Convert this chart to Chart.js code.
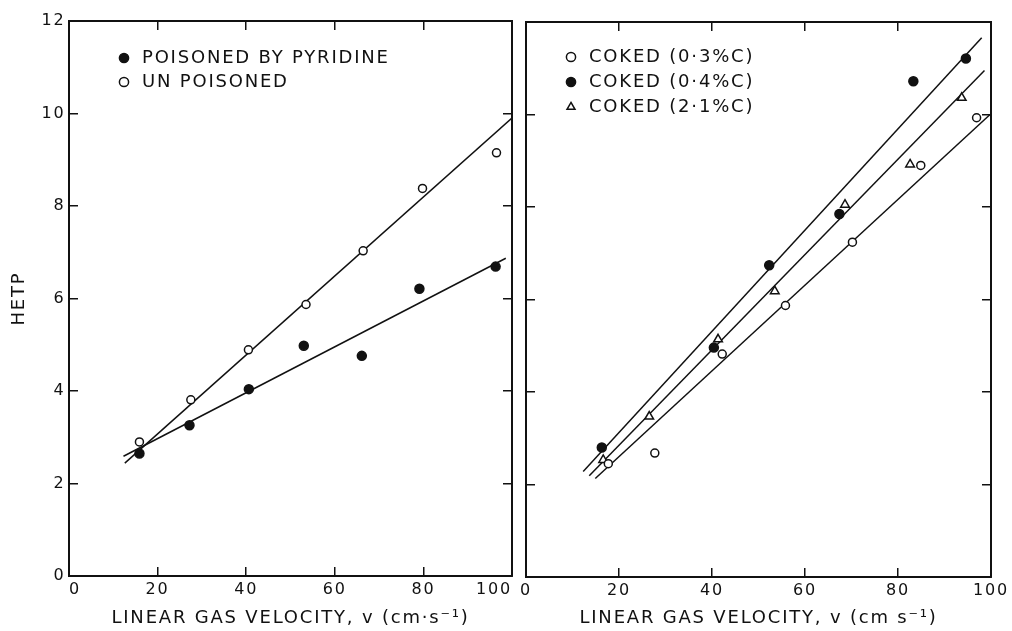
<!DOCTYPE html>
<html>
<head>
<meta charset="utf-8">
<script src="https://cdn.jsdelivr.net/npm/chart.js@4.4.1/dist/chart.umd.min.js"></script>
<style>
  html, body { margin: 0; padding: 0; background: #fff; }
  #wrap { position: relative; width: 1012px; height: 631px; overflow: hidden; background: #fff; }
  canvas { position: absolute; top: 0; }
  #left { left: 0; }
  #right { left: 518px; }
</style>
</head>
<body>
<div id="wrap">
  <canvas id="left" width="518" height="631"></canvas>
  <canvas id="right" width="494" height="631"></canvas>
</div>
<script>
// -- DATA ----------------------------------------------
const xTicks = [0, 20, 40, 60, 80, 100];
const yTicks = [0, 2, 4, 6, 8, 10, 12];

const xTitleLeft = "LINEAR GAS VELOCITY, v (cm·s⁻¹)";
const xTitleRight = "LINEAR GAS VELOCITY, v (cm s⁻¹)";
const yTitle = "HETP";

// left panel
const leftLabels = ["POISONED BY PYRIDINE", "UN POISONED"];
const poisonedV = [15.9, 27.2, 40.6, 53.0, 66.1, 79.1, 96.3];
const poisonedH = [2.65, 3.26, 4.04, 4.98, 4.76, 6.21, 6.69];
const unpoisonedV = [15.9, 27.5, 40.5, 53.5, 66.4, 79.8, 96.5];
const unpoisonedH = [2.90, 3.81, 4.89, 5.87, 7.03, 8.38, 9.15];
const poisonedFitV = [12.3, 98.6];
const poisonedFitH = [2.59, 6.87];
const unpoisonedFitV = [12.6, 100.3];
const unpoisonedFitH = [2.44, 9.93];

// right panel
const rightLabels = ["COKED (0·3%C)", "COKED (0·4%C)", "COKED (2·1%C)"];
const coked03V = [17.7, 27.7, 42.2, 55.8, 70.2, 84.9, 96.9];
const coked03H = [2.45, 2.68, 4.82, 5.87, 7.24, 8.90, 9.93];
const coked04V = [16.3, 40.4, 52.3, 67.4, 83.3, 94.6];
const coked04H = [2.80, 4.96, 6.74, 7.85, 10.72, 11.21];
const coked21V = [16.6, 26.5, 41.3, 53.5, 68.6, 82.6, 93.7];
const coked21H = [2.53, 3.47, 5.14, 6.18, 8.05, 8.92, 10.36];
const coked03FitV = [14.9, 99.8];
const coked03FitH = [2.13, 10.0];
const coked04FitV = [12.3, 98.0];
const coked04FitH = [2.28, 11.66];
const coked21FitV = [13.6, 98.6];
const coked21FitH = [2.19, 10.95];

// -- STYLE ---------------------------------------------
const INK = "#111";
Chart.defaults.font.family = "'DejaVu Sans', sans-serif";
Chart.defaults.color = INK;

function toPoints(xs, ys) {
  return xs.map((x, i) => ({ x: x, y: ys[i] }));
}

// widen the lettering a little, like the stencil text of the original
const letterSpacing = {
  id: "letterSpacing",
  beforeUpdate(chart) { chart.ctx.letterSpacing = "1.8px"; },
  beforeDraw(chart) { chart.ctx.letterSpacing = "1.8px"; }
};

// put the (chartArea) legend where the original has it
const legendSpot = {
  id: "legendSpot",
  afterLayout(chart, args, opts) {
    const lg = chart.legend;
    if (!lg) return;
    const w = lg.width;
    const h = lg.height;
    lg.left = opts.x;
    lg.top = opts.y;
    lg.right = opts.x + w;
    lg.bottom = opts.y + h;
  }
};

function scatterSet(label, xs, ys, style, filled, radius) {
  return {
    label: label,
    data: toPoints(xs, ys),
    pointStyle: style,
    pointRadius: radius,
    backgroundColor: filled ? INK : "#fff",
    borderColor: INK,
    borderWidth: 1.5
  };
}

function fitSet(xs, ys) {
  return {
    label: "fit",
    isFit: true,
    data: toPoints(xs, ys),
    showLine: true,
    pointRadius: 0,
    borderColor: INK,
    borderWidth: 1.5,
    fill: false
  };
}

// tick marks point inwards, no grid on the plot
function edgeGrid() {
  return { drawOnChartArea: false, drawTicks: true, tickLength: -9, color: INK, lineWidth: 1.5 };
}

function makeScales(cfg) {
  const xStep = xTicks[1] - xTicks[0];
  const yStep = yTicks[1] - yTicks[0];
  const border = { display: true, color: INK, width: 2 };
  return {
    x: {
      type: "linear",
      position: "bottom",
      min: xTicks[0],
      max: xTicks[xTicks.length - 1],
      grid: edgeGrid(),
      border: border,
      // tall line height pushes the labels down without adding side padding
      ticks: { stepSize: xStep, padding: 0, align: cfg.xAlign, maxRotation: 0, font: { size: 16, lineHeight: 2.875 } },
      title: { display: true, text: cfg.xTitle, font: { size: 18 }, padding: { top: 0, bottom: 2 } },
      afterFit: (s) => { s.height = cfg.bottom; }
    },
    xTop: {
      type: "linear",
      position: "top",
      min: xTicks[0],
      max: xTicks[xTicks.length - 1],
      grid: edgeGrid(),
      border: border,
      ticks: { stepSize: xStep, display: false },
      afterFit: (s) => { s.height = cfg.top; }
    },
    y: {
      type: "linear",
      position: "left",
      min: yTicks[0],
      max: yTicks[yTicks.length - 1],
      grid: edgeGrid(),
      border: border,
      ticks: { stepSize: yStep, padding: 12.5, display: cfg.yLabels, font: { size: 16, lineHeight: 1 } },
      title: { display: cfg.yLabels, text: yTitle, font: { size: 18 }, padding: { top: 9, bottom: 0 } },
      afterFit: (s) => { s.width = cfg.left; }
    },
    yRight: {
      type: "linear",
      position: "right",
      min: yTicks[0],
      max: yTicks[yTicks.length - 1],
      grid: edgeGrid(),
      border: border,
      ticks: { stepSize: yStep, display: false },
      afterFit: (s) => { s.width = cfg.right; }
    }
  };
}

function makeOptions(cfg) {
  return {
    responsive: false,
    animation: false,
    events: [],
    layout: { padding: 0 },
    scales: makeScales(cfg),
    plugins: {
      tooltip: { enabled: false },
      legend: {
        position: "chartArea",
        align: "start",
        labels: {
          usePointStyle: true,
          boxWidth: 18,
          boxHeight: 6.5,
          padding: cfg.legendPad,
          color: INK,
          font: { size: 18 },
          filter: (item, data) => !data.datasets[item.datasetIndex].isFit
        }
      },
      legendSpot: { x: cfg.legendX, y: cfg.legendY }
    }
  };
}

// -- RENDER --------------------------------------------
new Chart(document.getElementById("left"), {
  type: "scatter",
  data: {
    datasets: [
      scatterSet(leftLabels[0], poisonedV, poisonedH, "circle", true, 4.5),
      scatterSet(leftLabels[1], unpoisonedV, unpoisonedH, "circle", false, 4),
      fitSet(poisonedFitV, poisonedFitH),
      fitSet(unpoisonedFitV, unpoisonedFitH)
    ]
  },
  options: makeOptions({
    xTitle: xTitleLeft, xAlign: "inner", yLabels: true,
    left: 69, right: 6, top: 21, bottom: 55,
    legendPad: 6, legendX: 109, legendY: 43
  }),
  plugins: [letterSpacing, legendSpot]
});

new Chart(document.getElementById("right"), {
  type: "scatter",
  data: {
    datasets: [
      scatterSet(rightLabels[0], coked03V, coked03H, "circle", false, 4),
      scatterSet(rightLabels[1], coked04V, coked04H, "circle", true, 4.5),
      scatterSet(rightLabels[2], coked21V, coked21H, "triangle", false, 5),
      fitSet(coked03FitV, coked03FitH),
      fitSet(coked04FitV, coked04FitH),
      fitSet(coked21FitV, coked21FitH)
    ]
  },
  options: makeOptions({
    xTitle: xTitleRight, xAlign: "center", yLabels: false,
    left: 8, right: 21, top: 22, bottom: 54,
    legendPad: 7, legendX: 37, legendY: 41
  }),
  plugins: [letterSpacing, legendSpot]
});
</script>
</body>
</html>
